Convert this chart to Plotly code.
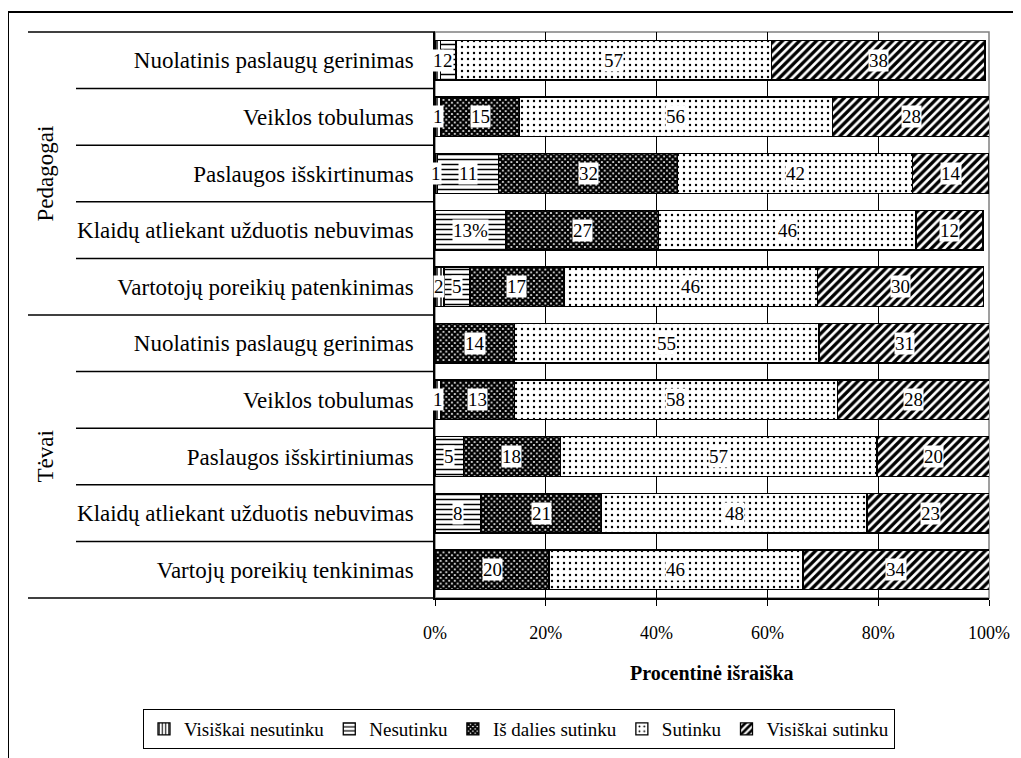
import plotly.graph_objects as go

FONT = "Liberation Serif"

groups = ["Pedagogai", "Tėvai"]
group_sizes = [5, 5]
categories = [
    "Nuolatinis paslaugų gerinimas",
    "Veiklos tobulumas",
    "Paslaugos išskirtinumas",
    "Klaidų atliekant užduotis nebuvimas",
    "Vartotojų poreikių patenkinimas",
    "Nuolatinis paslaugų gerinimas",
    "Veiklos tobulumas",
    "Paslaugos išskirtiniumas",
    "Klaidų atliekant užduotis nebuvimas",
    "Vartojų poreikių tenkinimas",
]
series_names = ["Visiškai nesutinku", "Nesutinku", "Iš dalies sutinku", "Sutinku", "Visiškai sutinku"]

# values (% of respondents)
visiskai_nesutinku = [1.0, 1.1, 0.5, 0.0, 1.6, 0.0, 1.1, 0.0, 0.0, 0.0]
nesutinku = [2.8, 0.0, 11.0, 12.8, 4.7, 0.0, 0.0, 5.1, 8.3, 0.0]
is_dalies_sutinku = [0.0, 14.1, 32.3, 27.6, 17.0, 14.3, 13.2, 17.5, 21.7, 20.6]
sutinku = [56.9, 56.5, 42.4, 46.4, 45.7, 55.0, 58.3, 57.2, 48.0, 45.8]
visiskai_sutinku = [38.6, 28.5, 13.7, 12.1, 30.0, 30.9, 27.6, 20.4, 22.7, 33.8]

# printed data labels
labels_vn = ["1", "1", "1", "", "2", "", "1", "", "", ""]
labels_n = ["2", "", "11", "13%", "5", "", "", "5", "8", ""]
labels_id = ["", "15", "32", "27", "17", "14", "13", "18", "21", "20"]
labels_s = ["57", "56", "42", "46", "46", "55", "58", "57", "48", "46"]
labels_vs = ["38", "28", "14", "12", "30", "31", "28", "20", "23", "34"]

x_ticks = [0, 20, 40, 60, 80, 100]
x_tick_text = ["0%", "20%", "40%", "60%", "80%", "100%"]
x_title = "Procentinė išraiška"

series_values = [visiskai_nesutinku, nesutinku, is_dalies_sutinku, sutinku, visiskai_sutinku]
series_labels = [labels_vn, labels_n, labels_id, labels_s, labels_vs]
patterns = [
    dict(shape="|", size=4, solidity=0.35),
    dict(shape="-", size=5, solidity=0.3),
    dict(shape="x", size=4, solidity=0.8),
    dict(shape=".", size=6, solidity=0.12),
    dict(shape="/", size=6, solidity=0.55),
]

rows = list(range(len(categories)))
n = len(rows)

# page body has an 8px margin; figure is sized to fit inside it
W, H = 1013, 750
OFF = 8
PL, PR, PT, PB = 435 - OFF, 989 - OFF, 32 - OFF, 598 - OFF   # plot area in figure px
PW, PH = PR - PL, PB - PT


def px_x(x):
    return (x - OFF - PL) / PW


def px_y(y):
    return (PB - (y - OFF)) / PH


fig = go.Figure()
for name, vals, pat in zip(series_names, series_values, patterns):
    fig.add_trace(go.Bar(
        orientation="h",
        y=rows,
        x=[v if v else None for v in vals],
        name=name,
        width=0.7,
        marker=dict(
            color="white",
            line=dict(color="black", width=1.3),
            pattern=dict(fgcolor="black", bgcolor="white", **pat),
        ),
    ))

annotations = []
for r in rows:
    start = 0.0
    for vals, labs in zip(series_values, series_labels):
        v = vals[r]
        if labs[r]:
            annotations.append(dict(
                x=start + v / 2, y=r, xref="x", yref="y", text=labs[r], showarrow=False,
                bgcolor="white", borderpad=0, font=dict(family=FONT, size=19, color="black"),
            ))
        start += v

# group labels
idx = 0
for g, size in zip(groups, group_sizes):
    annotations.append(dict(
        x=px_x(45), xref="paper", y=idx + (size - 1) / 2, yref="y",
        text=g, textangle=-90, showarrow=False, xanchor="center", yanchor="middle",
        font=dict(family=FONT, size=23, color="black"),
    ))
    idx += size

annotations.append(dict(
    x=0.5, xref="paper", y=px_y(673), yref="paper", text="<b>" + x_title + "</b>",
    showarrow=False, xanchor="center", yanchor="middle",
    font=dict(family=FONT, size=20, color="black"),
))

NOFILL = "rgba(0,0,0,0)"
shapes = []
# plot area border (gray)
shapes.append(dict(type="rect", xref="paper", yref="paper", x0=0, x1=1, y0=0, y1=1,
                   fillcolor=NOFILL, line=dict(color="#808080", width=1.5), layer="below"))
# outer chart border
shapes.append(dict(type="rect", xref="paper", yref="paper",
                   x0=px_x(8), x1=px_x(1040), y0=px_y(780), y1=px_y(12),
                   fillcolor=NOFILL, line=dict(color="black", width=2)))
# category separators
group_bounds = {0}
acc = 0
for size in group_sizes:
    acc += size
    group_bounds.add(acc)
for b in range(n + 1):
    x0 = px_x(28) if b in group_bounds else px_x(76)
    yp = 1 - b / n
    shapes.append(dict(type="line", xref="paper", yref="paper", x0=x0, x1=0, y0=yp, y1=yp,
                       line=dict(color="black", width=1.5)))

fig.update_layout(
    width=W, height=H,
    margin=dict(l=PL, r=W - PR, t=PT, b=H - PB, autoexpand=False),
    paper_bgcolor="white", plot_bgcolor="white",
    template="none",
    barmode="stack",
    font=dict(family=FONT, size=18, color="black"),
    showlegend=True,
    legend=dict(
        orientation="h", xref="paper", x=px_x(143), xanchor="left",
        yref="paper", y=px_y(709), yanchor="top", traceorder="normal",
        bordercolor="black", borderwidth=1, bgcolor="white",
        font=dict(family=FONT, size=19, color="black"),
    ),
    annotations=annotations,
    shapes=shapes,
)
fig.update_xaxes(
    range=[0, 100], tickmode="array", tickvals=x_ticks, ticktext=x_tick_text,
    showgrid=True, gridcolor="black", gridwidth=1,
    showline=True, linecolor="black", linewidth=1.5,
    ticks="outside", ticklen=6, tickcolor="black",
    zeroline=False, ticklabelstandoff=12,
    tickfont=dict(family=FONT, size=18, color="black"),
)
fig.update_yaxes(
    range=[n - 0.5, -0.5], tickmode="array", tickvals=rows, ticktext=categories,
    showgrid=False, zeroline=False, ticks="",
    showline=True, linecolor="black", linewidth=1.5,
    ticklabelstandoff=15,
    tickfont=dict(family=FONT, size=23, color="black"),
)

fig.write_html("out.html")
